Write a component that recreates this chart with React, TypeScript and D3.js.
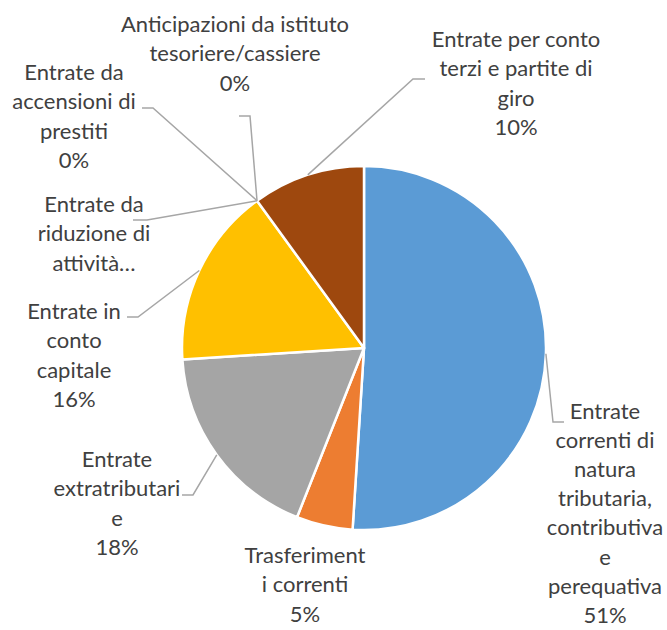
import { useMemo } from "react";
import * as d3 from "d3";

// categories in drawing order (clockwise from 12 o'clock)
const categories = [
  "Entrate correnti di natura tributaria, contributiva e perequativa",
  "Trasferimenti correnti",
  "Entrate extratributarie",
  "Entrate in conto capitale",
  "Entrate da riduzione di attività finanziarie",
  "Entrate da accensioni di prestiti",
  "Anticipazioni da istituto tesoriere/cassiere",
  "Entrate per conto terzi e partite di giro",
];
const shares = [51, 5, 18, 16, 0, 0, 0, 10];
// label text as it is wrapped in the picture
const labelLines = [
  ["Entrate", "correnti di", "natura", "tributaria,", "contributiva", "e", "perequativa", "51%"],
  ["Trasferiment", "i correnti", "5%"],
  ["Entrate", "extratributari", "e", "18%"],
  ["Entrate in", "conto", "capitale", "16%"],
  ["Entrate da", "riduzione di", "attività…"],
  ["Entrate da", "accensioni di", "prestiti", "0%"],
  ["Anticipazioni da istituto", "tesoriere/cassiere", "0%"],
  ["Entrate per conto", "terzi e partite di", "giro", "10%"],
];
const colors = ["#5B9BD5", "#ED7D31", "#A5A5A5", "#FFC000", "#5A7FC4", "#70AD47", "#264478", "#9E480E"];

// label placement (text centre x, first baseline y, line step) and leader elbow/end
const labelPos = [
  { x: 605, y: 419, step: 29.1, elbow: [553, 422], end: [564, 422] },
  { x: 305, y: 563, step: 29.4, elbow: null, end: null },
  { x: 117, y: 467, step: 29.4, elbow: [193, 495], end: [182, 495] },
  { x: 74, y: 319, step: 29.4, elbow: [138, 317], end: [127, 317] },
  { x: 94, y: 212, step: 29.4, elbow: [147, 220], end: [133, 220] },
  { x: 74, y: 80, step: 29.4, elbow: [153, 108], end: [142, 108] },
  { x: 235, y: 32, step: 29.4, elbow: [250, 116], end: [239, 116] },
  { x: 516, y: 47, step: 29.4, elbow: [413, 79], end: [425, 79] },
];

const W = 667;
const H = 630;
const cx = 364;
const cy = 348;
const R = 182;

export default function App() {
  const arcs = useMemo(() => {
    const pie = d3
      .pie<number>()
      .sort(null)
      .value((d) => d)
      .startAngle(0)
      .endAngle(2 * Math.PI);
    return pie(shares);
  }, []);

  const arcGen = d3.arc<d3.PieArcDatum<number>>().innerRadius(0).outerRadius(R);

  return (
    <svg
      width={W}
      height={H}
      style={{ position: "absolute", left: 0, top: 0, background: "#fff" }}
      fontFamily="Lato, 'Open Sans', sans-serif"
    >
      <g transform={`translate(${cx},${cy})`}>
        {arcs.map((a, i) =>
          a.endAngle - a.startAngle > 0 ? (
            <path key={i} d={arcGen(a) || ""} fill={colors[i]} stroke="#fff" strokeWidth={2.5} strokeLinejoin="round" />
          ) : null,
        )}
      </g>
      {/* leader lines */}
      {arcs.map((a, i) => {
        const p = labelPos[i];
        if (!p.elbow || !p.end) return null;
        const mid = (a.startAngle + a.endAngle) / 2;
        const sx = cx + R * Math.sin(mid);
        const sy = cy - R * Math.cos(mid);
        return (
          <polyline
            key={i}
            points={`${sx},${sy} ${p.elbow[0]},${p.elbow[1]} ${p.end[0]},${p.end[1]}`}
            fill="none"
            stroke="#A6A6A6"
            strokeWidth={1.5}
          />
        );
      })}
      {/* labels */}
      {labelLines.map((lines, i) => (
        <text key={i} textAnchor="middle" fontSize={22} fill="#404040">
          {lines.map((t, j) => (
            <tspan key={j} x={labelPos[i].x} y={labelPos[i].y + j * labelPos[i].step}>
              {t}
            </tspan>
          ))}
        </text>
      ))}
    </svg>
  );
}
